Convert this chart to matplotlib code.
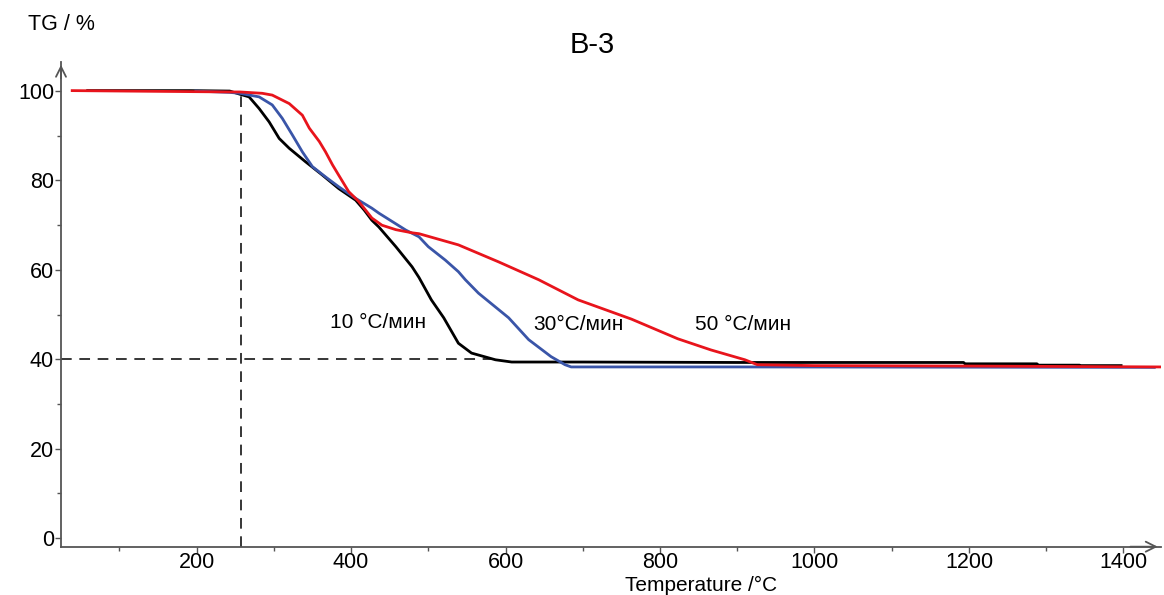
import matplotlib
matplotlib.use("Agg")
import matplotlib.pyplot as plt

# TG curves of sample B-3 at three heating rates
t_10 = [59, 191, 243, 256, 268, 281, 294, 307, 320, 341, 363, 384, 406, 417, 427, 436, 458,
        479, 488, 504, 520, 539, 556, 587, 608, 700, 900, 1193, 1195, 1288, 1290, 1343, 1345,
        1397]
tg_10 = [100.1, 100.1, 100.0, 99.3, 98.7, 96.1, 93.1, 89.4, 87.2, 84.2, 81.2, 78.2, 75.6, 73.4,
         71.1, 69.6, 65.2, 60.7, 58.3, 53.3, 49.3, 43.6, 41.4, 39.9, 39.4, 39.4, 39.3, 39.3,
         39.0, 39.0, 38.7, 38.7, 38.6, 38.6]

t_30 = [199, 243, 256, 281, 298, 311, 324, 337, 350, 367, 384, 406, 427, 436, 471, 488, 500,
        522, 539, 548, 565, 604, 630, 659, 677, 685, 900, 1440]
tg_30 = [100.0, 99.7, 99.5, 98.7, 96.9, 93.9, 90.2, 86.4, 83.1, 80.8, 78.6, 76.0, 73.8, 72.7,
         68.9, 67.4, 65.2, 62.2, 59.6, 57.8, 54.8, 49.3, 44.4, 40.6, 38.8, 38.3, 38.3, 38.2]

t_50 = [39, 243, 256, 285, 298, 320, 337, 346, 359, 367, 376, 384, 397, 410, 427, 440, 458,
        479, 488, 539, 591, 643, 694, 763, 823, 866, 910, 926, 1000, 1200, 1448]
tg_50 = [100.1, 99.8, 99.8, 99.5, 99.1, 97.2, 94.6, 91.7, 88.7, 86.4, 83.5, 81.2, 77.5, 75.3,
         71.6, 70.0, 69.0, 68.3, 68.1, 65.6, 61.8, 57.8, 53.3, 49.0, 44.6, 42.1, 39.9, 38.8,
         38.6, 38.5, 38.3]

rate_labels = ["10 °C/мин", "30°C/мин", "50 °C/мин"]
label_pos = [(373, 48.2), (636, 47.8), (845, 47.8)]

onset_t = 258
residue = 40

fig = plt.figure(figsize=(11.64, 5.95), dpi=100)
ax = fig.add_axes([0.0524, 0.0812, 0.9446, 0.8146])
ax.set_xlim(24.5, 1448)
ax.set_ylim(-1.9, 106.5)

axis_col = "#555555"
for side in ("top", "right"):
    ax.spines[side].set_visible(False)
for side in ("left", "bottom"):
    ax.spines[side].set_color(axis_col)
    ax.spines[side].set_linewidth(1.3)

ax.set_xticks(range(200, 1401, 200))
ax.set_xticks(range(100, 1401, 200), minor=True)
ax.set_yticks(range(0, 101, 20))
ax.set_yticks(range(10, 101, 20), minor=True)
ax.tick_params(which="major", length=4, width=1, color=axis_col, labelsize=15.5, pad=1)
ax.tick_params(axis="x", which="major", pad=0)
ax.tick_params(which="minor", length=3, width=1, color=axis_col)

# arrow heads at the ends of both axes
ax.annotate("", xy=(0, 1.0), xytext=(0, 0.96), xycoords="axes fraction",
            arrowprops=dict(arrowstyle="->", color=axis_col, lw=1.3, mutation_scale=18))
ax.annotate("", xy=(1.0, 0), xytext=(0.97, 0), xycoords="axes fraction",
            arrowprops=dict(arrowstyle="->", color=axis_col, lw=1.3, mutation_scale=18))

# guide lines: onset temperature and 40 % level
ax.plot([onset_t, onset_t], [-1.9, 100], ls=(0, (7, 5)), color="black", lw=1.1)
ax.plot([24.5, 590], [residue, residue], ls=(0, (7, 5)), color="black", lw=1.1)

ax.plot(t_10, tg_10, color="black", lw=2.0)
ax.plot(t_30, tg_30, color="#3a55a8", lw=2.0)
ax.plot(t_50, tg_50, color="#e8141c", lw=2.0)

for txt, (x, y) in zip(rate_labels, label_pos):
    ax.text(x, y, txt, fontsize=15, ha="left", va="center", family="Liberation Sans")

fig.text(0.509, 0.924, "B-3", fontsize=21, ha="center", va="center", family="Liberation Sans")
fig.text(0.024, 0.958, "TG / %", fontsize=15.5, ha="left", va="center", family="Liberation Sans")
fig.text(0.602, 0.0, "Temperature /°C", fontsize=15, ha="center", va="bottom",
         family="Liberation Sans")

for lab in ax.get_xticklabels() + ax.get_yticklabels():
    lab.set_family("Liberation Sans")

fig.savefig("out.png", dpi=100)
